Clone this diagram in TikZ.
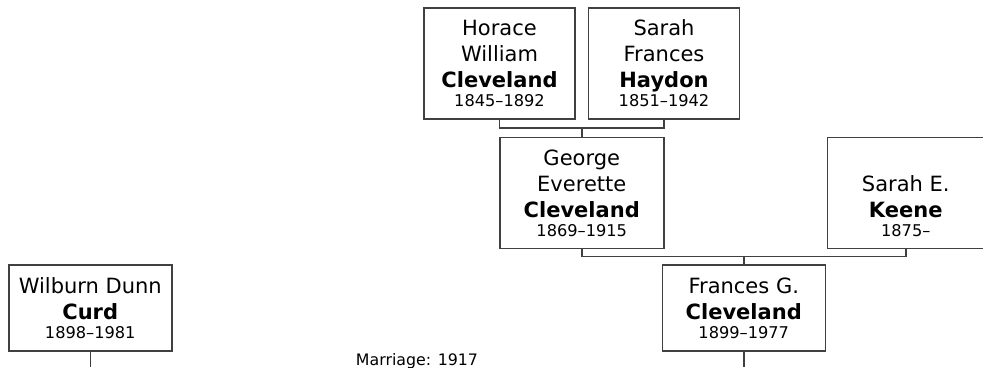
\documentclass[tikz,border=0pt]{standalone}
\usepackage{fontspec}
\setmainfont{DejaVu Sans}
\usepackage{tikz}
\usepackage{xcolor}
\usetikzlibrary{positioning, calc}
\definecolor{treeGray}{RGB}{64,64,64}
\definecolor{darkText}{RGB}{0,0,0}
\newcommand{\namefont}{\fontsize{21}{26}\selectfont}
\newcommand{\lifespan}[1]{{\fontsize{16.2}{19}\selectfont #1}}
\tikzset{
    personbox/.style={
        rectangle,
        draw=treeGray,
        line width=1.5pt,
        fill=white,
        align=center,
        inner sep=0pt,
        minimum width=163pt,
        minimum height=86pt,
        text=darkText,
        font=\namefont
    },
    tallbox/.style={personbox, minimum height=111pt},
    parentbox/.style={tallbox, minimum width=151pt},
    treeline/.style={draw=treeGray, line width=1.5pt},
    note/.style={inner sep=0pt, text=darkText, font=\fontsize{15.8}{19}\selectfont}
}

\begin{document}
\begin{tikzpicture}[x=1pt, y=1pt]
        \useasboundingbox (0,0) rectangle (983,-367);
        \node[parentbox] (horace) at (499.5,-63.5) {Horace\\William\\\textbf{Cleveland}\\[-7pt]\lifespan{1845–1892}};
        \node[parentbox, right=12pt of horace] (sarahf) {Sarah\\Frances\\\textbf{Haydon}\\[-7pt]\lifespan{1851–1942}};
        \coordinate (hs-join) at ($(horace.south)!0.5!(sarahf.south)+(0,-8)$);
        \node[tallbox, minimum width=164pt, below=9pt of hs-join] (george) {George\\Everette\\\textbf{Cleveland}\\[-7pt]\lifespan{1869–1915}};
        \node[tallbox, minimum width=157pt, right=162pt of george] (keene) {\vphantom{Sarah}\\Sarah E.\\\textbf{Keene}\\[-7pt]\lifespan{1875–}};
        \coordinate (gk-join) at ($(george.south)!0.5!(keene.south)+(0,-7)$);
        \node[personbox, below=8pt of gk-join] (frances) {Frances G.\\\textbf{Cleveland}\\[-7pt]\lifespan{1899–1977}};
        \node[personbox, left=489pt of frances] (wilburn) {Wilburn Dunn\\\textbf{Curd}\\[-7pt]\lifespan{1898–1981}};
        \coordinate (wilburn-end) at (wilburn.south |- 0,-367);
        \coordinate (frances-end) at (frances.south |- 0,-367);

        \draw[treeline] (horace.south) -- (horace.south |- hs-join) -- (sarahf.south |- hs-join) -- (sarahf.south);
        \draw[treeline] (hs-join) -- (george.north);
        \draw[treeline] (george.south) -- (george.south |- gk-join) -- (keene.south |- gk-join) -- (keene.south);
        \draw[treeline] (gk-join) -- (frances.north);
        \draw[treeline] (wilburn.south) -- (wilburn-end);
        \draw[treeline] (frances.south) -- (frances-end);
        \node[note, anchor=base] (marriage) at ($(wilburn-end)!0.5!(frances-end)+(0,2)$) {Marriage: 1917};
    \end{tikzpicture}
\end{document}
